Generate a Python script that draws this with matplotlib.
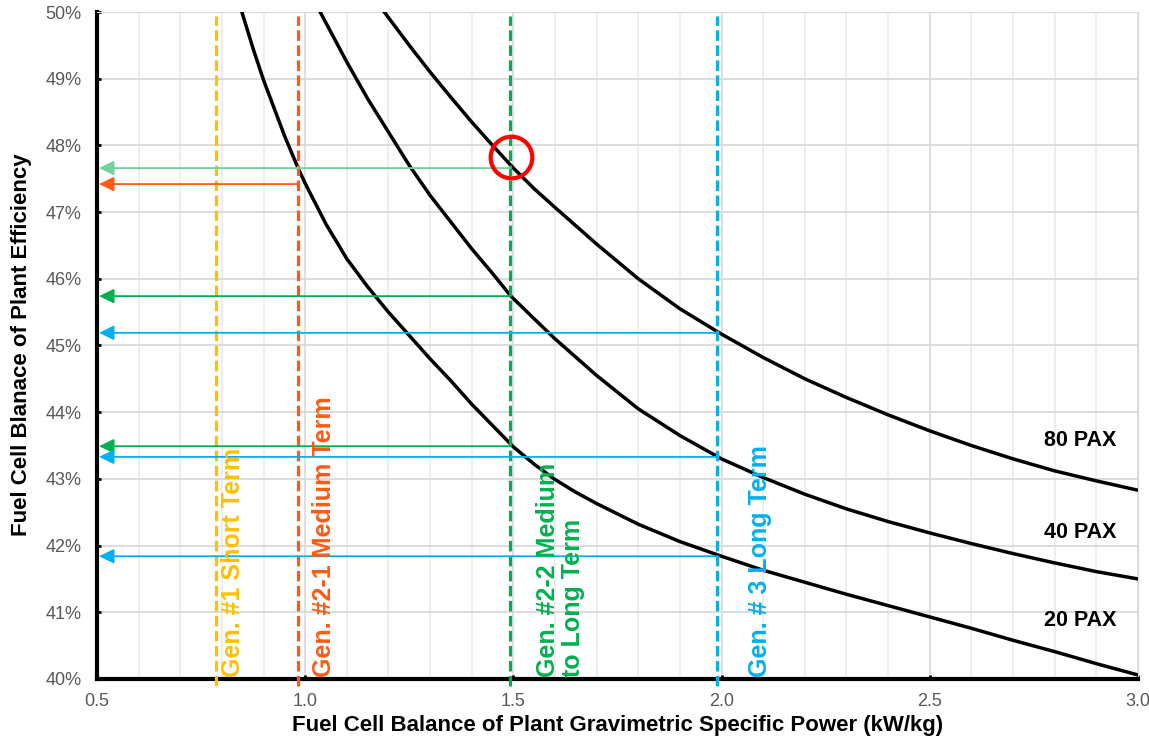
import matplotlib
matplotlib.use("Agg")
import matplotlib.pyplot as plt

plt.rcParams['font.family'] = ['Liberation Sans', 'DejaVu Sans']

# efficiency curves (kW/kg, %)
pax20_x = [0.848, 0.875, 0.90, 0.95, 0.983, 1.00, 1.05, 1.10, 1.15, 1.20, 1.25, 1.30, 1.35, 1.40, 1.45, 1.50,
           1.55, 1.60, 1.65, 1.70, 1.80, 1.90, 2.00, 2.10, 2.20, 2.30, 2.40, 2.50, 2.60, 2.70, 2.80, 2.90, 3.00]
pax20_y = [50.0, 49.45, 48.98, 48.15, 47.66, 47.43, 46.82, 46.3, 45.88, 45.5, 45.15, 44.8, 44.47, 44.12, 43.8, 43.48,
           43.22, 42.99, 42.8, 42.63, 42.32, 42.06, 41.84, 41.63, 41.45, 41.27, 41.1, 40.93, 40.76, 40.58, 40.41, 40.23, 40.06]
pax40_x = [1.036, 1.10, 1.15, 1.20, 1.25, 1.30, 1.35, 1.40, 1.45, 1.494, 1.55, 1.60, 1.70, 1.80, 1.90,
           2.00, 2.10, 2.20, 2.30, 2.40, 2.50, 2.60, 2.70, 2.80, 2.90, 3.00]
pax40_y = [50.0, 49.25, 48.7, 48.2, 47.7, 47.25, 46.85, 46.45, 46.08, 45.74, 45.4, 45.1, 44.55, 44.05, 43.65,
           43.3, 43.02, 42.77, 42.55, 42.36, 42.19, 42.03, 41.88, 41.74, 41.61, 41.5]
pax80_x = [1.19, 1.25, 1.30, 1.35, 1.40, 1.45, 1.50, 1.55, 1.60, 1.70, 1.80, 1.90, 2.00, 2.10, 2.20,
           2.30, 2.40, 2.50, 2.60, 2.70, 2.80, 2.90, 3.00]
pax80_y = [50.0, 49.5, 49.1, 48.72, 48.35, 48.0, 47.66, 47.35, 47.07, 46.52, 46.0, 45.55, 45.17, 44.82, 44.5,
           44.22, 43.96, 43.72, 43.5, 43.3, 43.12, 42.97, 42.83]
pax_labels = ['20 PAX', '40 PAX', '80 PAX']
pax_label_y = [40.87, 42.19, 43.58]

# technology generations
gen_x = [0.785, 0.982, 1.493, 1.99]
gen_text = ['Gen. #1 Short Term', 'Gen. #2-1 Medium Term', 'Gen. #2-2 Medium\nto Long Term', 'Gen. # 3 Long Term']
gen_color = ['#FFC000', '#FF5A14', '#00B050', '#00B0F0']
gen_text_x = [0.827, 1.045, 1.614, 2.092]

# read-off arrows: (start x, level %, colour)
arrow_x = [1.493, 0.982, 1.493, 1.99, 1.493, 1.99, 1.99]
arrow_y = [47.66, 47.42, 45.74, 45.19, 43.49, 43.33, 41.84]
arrow_c = ['#6FD39A', '#FF5A14', '#00B050', '#00B0F0', '#00B050', '#00B0F0', '#00B0F0']

fig = plt.figure(figsize=(11.49, 7.41), dpi=100)
ax = fig.add_axes([0.0844, 0.0837, 0.906, 0.9001])
ax.set_xlim(0.5, 3.0)
ax.set_ylim(40, 50)

# grid
for v in [0.5 + 0.1 * i for i in range(26)]:
    c = '#D9D9D9' if abs((v * 2) - round(v * 2)) < 1e-6 else '#EBEBEB'
    ax.axvline(v, color=c, lw=1.2, zorder=0)
for v in range(40, 51):
    ax.axhline(v, color='#D9D9D9', lw=1.3, zorder=0)

for xs, ys in [(pax20_x, pax20_y), (pax40_x, pax40_y), (pax80_x, pax80_y)]:
    ax.plot(xs, ys, color='black', lw=2.5, zorder=3, solid_joinstyle='round')
for lab, y in zip(pax_labels, pax_label_y):
    ax.text(2.861, y, lab, fontsize=15.5, fontweight='bold', ha='center', va='center')

for x, t, c, tx in zip(gen_x, gen_text, gen_color, gen_text_x):
    ax.plot([x, x], [39.9, 49.94], color=c, lw=2.3, ls=(0, (3.3, 1.4)), clip_on=False, zorder=4)
    ax.text(tx, 40.03, t, color=c, fontsize=18, fontweight='bold', rotation=90,
            ha='center', va='bottom', multialignment='left', linespacing=1.05, zorder=5)

for x, y, c in zip(arrow_x, arrow_y, arrow_c):
    ax.annotate('', xy=(0.505, y), xytext=(x, y),
                arrowprops=dict(arrowstyle='-|>,head_length=0.45,head_width=0.22',
                                color=c, lw=1.3, shrinkA=0, shrinkB=0, mutation_scale=20),
                zorder=4)

# highlighted design point
ax.plot([1.494], [47.83], marker='o', ms=30, mfc='none', mec='#FF0000', mew=3, zorder=6)

ax.spines['left'].set_linewidth(3)
ax.spines['bottom'].set_linewidth(3)
ax.spines['top'].set_color('#D9D9D9')
ax.spines['right'].set_color('#D9D9D9')
ax.set_xticks([0.5, 1.0, 1.5, 2.0, 2.5, 3.0])
ax.set_xticklabels(['0.5', '1.0', '1.5', '2.0', '2.5', '3.0'])
ax.set_yticks(range(40, 51))
ax.set_yticklabels([f'{v}%' for v in range(40, 51)])
ax.tick_params(axis='both', direction='in', length=3, width=2, color='black',
               labelcolor='#595959', labelsize=13)
ax.tick_params(axis='y', pad=11)
ax.tick_params(axis='x', pad=10)

fig.text(617.5 / 1149, 1 - 725 / 741, 'Fuel Cell Balance of Plant Gravimetric Specific Power (kW/kg)',
         fontsize=16, fontweight='bold', ha='center', va='center')
fig.text(22 / 1149, 1 - 345 / 741, 'Fuel Cell Blanace of Plant Efficiency',
         fontsize=16, fontweight='bold', ha='center', va='center', rotation=90)

fig.savefig('out.png', dpi=100)
